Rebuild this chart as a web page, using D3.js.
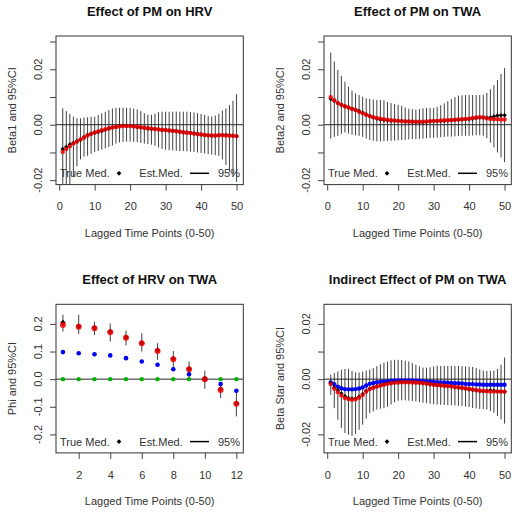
<!DOCTYPE html>
<html>
<head>
<meta charset="utf-8">
<script src="https://cdn.jsdelivr.net/npm/d3@7/dist/d3.min.js"></script>
<style>
  body { margin: 0; background: #fff; }
  svg text { font-family: "Liberation Sans", Arial, Helvetica, sans-serif; fill: #333; }
</style>
</head>
<body>
<svg id="chart" width="519" height="531"></svg>
<script>
'use strict';

// Lags
var lags50 = d3.range(1, 51);
var lags12 = d3.range(1, 13);

// Effect of PM on HRV (Beta1)
var hrvTrue = [-0.0098,-0.0088,-0.0078,-0.0068,-0.0061,-0.0053,-0.0046,-0.0039,-0.0033,-0.0028,
  -0.0024,-0.0020,-0.0016,-0.0013,-0.0010,-0.0008,-0.0006,-0.0005,-0.0005,-0.0005,
  -0.0006,-0.0007,-0.0009,-0.0011,-0.0013,-0.0014,-0.0015,-0.0017,-0.0018,-0.0019,
  -0.0021,-0.0022,-0.0024,-0.0025,-0.0027,-0.0029,-0.0030,-0.0032,-0.0034,-0.0035,
  -0.0037,-0.0038,-0.0039,-0.0039,-0.0038,-0.0038,-0.0039,-0.0040,-0.0040,-0.0041];
var hrvEst = [-0.0088,-0.0080,-0.0071,-0.0066,-0.0060,-0.0054,-0.0045,-0.0037,-0.0033,-0.0029,
  -0.0026,-0.0023,-0.0018,-0.0014,-0.0010,-0.0007,-0.0005,-0.0004,-0.0004,-0.0005,
  -0.0006,-0.0008,-0.0010,-0.0012,-0.0014,-0.0015,-0.0016,-0.0017,-0.0019,-0.0020,
  -0.0021,-0.0022,-0.0023,-0.0025,-0.0027,-0.0028,-0.0030,-0.0031,-0.0033,-0.0035,
  -0.0037,-0.0039,-0.0040,-0.0040,-0.0038,-0.0037,-0.0037,-0.0038,-0.0040,-0.0042];
var hrvUpper = [0.0059,0.0049,0.0039,0.0029,0.0023,0.0023,0.0026,0.0027,0.0029,0.0029,
  0.0035,0.0041,0.0047,0.0053,0.0058,0.0061,0.0061,0.0061,0.0061,0.0060,
  0.0058,0.0055,0.0049,0.0041,0.0036,0.0036,0.0040,0.0045,0.0047,0.0047,
  0.0047,0.0047,0.0047,0.0047,0.0047,0.0047,0.0046,0.0044,0.0042,0.0039,
  0.0036,0.0031,0.0029,0.0033,0.0040,0.0051,0.0059,0.0071,0.0086,0.0110];
var hrvLower = [-0.0260,-0.0240,-0.0222,-0.0188,-0.0150,-0.0125,-0.0115,-0.0112,-0.0105,-0.0098,
  -0.0095,-0.0090,-0.0085,-0.0080,-0.0075,-0.0068,-0.0064,-0.0062,-0.0061,-0.0061,
  -0.0062,-0.0063,-0.0066,-0.0068,-0.0070,-0.0072,-0.0076,-0.0082,-0.0087,-0.0090,
  -0.0092,-0.0093,-0.0094,-0.0095,-0.0095,-0.0096,-0.0097,-0.0098,-0.0100,-0.0102,
  -0.0104,-0.0106,-0.0108,-0.0110,-0.0113,-0.0125,-0.0145,-0.0170,-0.0188,-0.0206];

// Effect of PM on TWA (Beta2)
var twaTrue = [0.0099,0.0088,0.0078,0.0072,0.0067,0.0062,0.0057,0.0053,0.0047,0.0041,
  0.0036,0.0031,0.0027,0.0024,0.0022,0.0020,0.0018,0.0016,0.0015,0.0014,
  0.0013,0.0012,0.0012,0.0011,0.0011,0.0011,0.0011,0.0012,0.0013,0.0014,
  0.0014,0.0015,0.0016,0.0016,0.0017,0.0018,0.0019,0.0020,0.0021,0.0022,
  0.0024,0.0026,0.0027,0.0026,0.0023,0.0021,0.0020,0.0020,0.0019,0.0019];
var twaEst = [0.0093,0.0086,0.0078,0.0071,0.0066,0.0062,0.0058,0.0054,0.0049,0.0043,
  0.0037,0.0031,0.0026,0.0022,0.0019,0.0017,0.0015,0.0014,0.0014,0.0013,
  0.0013,0.0012,0.0012,0.0011,0.0010,0.0010,0.0010,0.0011,0.0012,0.0013,
  0.0013,0.0013,0.0014,0.0015,0.0016,0.0017,0.0018,0.0019,0.0020,0.0021,
  0.0022,0.0024,0.0026,0.0026,0.0025,0.0026,0.0030,0.0033,0.0034,0.0034];
var twaUpper = [0.0260,0.0228,0.0198,0.0176,0.0155,0.0137,0.0123,0.0113,0.0107,0.0101,
  0.0095,0.0093,0.0090,0.0089,0.0089,0.0088,0.0082,0.0078,0.0075,0.0072,
  0.0068,0.0062,0.0058,0.0056,0.0055,0.0057,0.0059,0.0060,0.0061,0.0061,
  0.0064,0.0070,0.0077,0.0085,0.0093,0.0100,0.0105,0.0106,0.0107,0.0107,
  0.0107,0.0107,0.0107,0.0108,0.0115,0.0128,0.0143,0.0161,0.0183,0.0204];
var twaLower = [-0.0050,-0.0044,-0.0040,-0.0033,-0.0028,-0.0032,-0.0036,-0.0038,-0.0040,-0.0044,
  -0.0050,-0.0055,-0.0058,-0.0060,-0.0060,-0.0059,-0.0058,-0.0058,-0.0057,-0.0056,
  -0.0055,-0.0054,-0.0053,-0.0052,-0.0052,-0.0051,-0.0050,-0.0049,-0.0048,-0.0047,
  -0.0046,-0.0045,-0.0044,-0.0043,-0.0043,-0.0042,-0.0041,-0.0040,-0.0040,-0.0040,
  -0.0039,-0.0038,-0.0038,-0.0040,-0.0048,-0.0065,-0.0082,-0.0100,-0.0118,-0.0135];

// Effect of HRV on TWA (Phi)
var phiTrue = [0.196,0.190,0.184,0.170,0.150,0.130,0.102,0.072,0.036,0.000,-0.039,-0.089];
var phiEst = [0.205,0.192,0.186,0.173,0.152,0.131,0.105,0.074,0.038,0.003,-0.036,-0.087];
var phiLower = [0.172,0.163,0.160,0.136,0.122,0.100,0.070,0.040,0.004,-0.035,-0.069,-0.135];
var phiUpper = [0.233,0.233,0.208,0.202,0.176,0.166,0.130,0.102,0.064,0.031,-0.014,-0.045];
var phiBlue = [0.098,0.094,0.090,0.086,0.076,0.064,0.052,0.036,0.018,0.000,-0.018,-0.042];
var phiGreen = [0,0,0,0,0,0,0,0,0,0,0,0];

// Indirect effect of PM on TWA (Beta Star)
var indTrue = [-0.0018,-0.0035,-0.0047,-0.0059,-0.0068,-0.0072,-0.0075,-0.0073,-0.0067,-0.0057,
  -0.0045,-0.0036,-0.0031,-0.0027,-0.0023,-0.0020,-0.0017,-0.0015,-0.0013,-0.0012,
  -0.0011,-0.0011,-0.0011,-0.0012,-0.0012,-0.0013,-0.0014,-0.0016,-0.0018,-0.0020,
  -0.0021,-0.0022,-0.0024,-0.0025,-0.0026,-0.0028,-0.0029,-0.0031,-0.0033,-0.0035,
  -0.0037,-0.0039,-0.0041,-0.0043,-0.0044,-0.0045,-0.0045,-0.0045,-0.0045,-0.0045];
var indEst = [-0.0015,-0.0030,-0.0040,-0.0052,-0.0062,-0.0068,-0.0071,-0.0070,-0.0064,-0.0054,
  -0.0043,-0.0035,-0.0030,-0.0026,-0.0022,-0.0019,-0.0016,-0.0014,-0.0012,-0.0011,
  -0.0010,-0.0010,-0.0010,-0.0011,-0.0012,-0.0013,-0.0015,-0.0017,-0.0019,-0.0020,
  -0.0022,-0.0023,-0.0024,-0.0026,-0.0027,-0.0029,-0.0031,-0.0033,-0.0035,-0.0037,
  -0.0039,-0.0041,-0.0043,-0.0044,-0.0042,-0.0040,-0.0042,-0.0044,-0.0045,-0.0046];
var indBlue = [-0.0012,-0.0018,-0.0027,-0.0033,-0.0036,-0.0037,-0.0037,-0.0036,-0.0034,-0.0030,
  -0.0023,-0.0017,-0.0014,-0.0011,-0.0010,-0.0008,-0.0007,-0.0006,-0.0005,-0.0005,
  -0.0005,-0.0005,-0.0005,-0.0005,-0.0006,-0.0006,-0.0007,-0.0008,-0.0009,-0.0010,
  -0.0011,-0.0012,-0.0012,-0.0013,-0.0014,-0.0015,-0.0015,-0.0016,-0.0017,-0.0018,
  -0.0018,-0.0019,-0.0019,-0.0020,-0.0020,-0.0020,-0.0020,-0.0020,-0.0020,-0.0020];
var indUpper = [0.0016,0.0022,0.0028,0.0034,0.0037,0.0037,0.0030,0.0025,0.0024,0.0027,
  0.0031,0.0035,0.0040,0.0047,0.0054,0.0060,0.0064,0.0068,0.0070,0.0070,
  0.0069,0.0067,0.0064,0.0058,0.0052,0.0046,0.0042,0.0042,0.0043,0.0046,
  0.0048,0.0048,0.0048,0.0048,0.0048,0.0048,0.0048,0.0047,0.0046,0.0045,
  0.0044,0.0040,0.0035,0.0031,0.0030,0.0030,0.0031,0.0037,0.0052,0.0078];
var indLower = [-0.0057,-0.0105,-0.0147,-0.0177,-0.0195,-0.0201,-0.0205,-0.0198,-0.0183,-0.0165,
  -0.0143,-0.0123,-0.0117,-0.0110,-0.0107,-0.0105,-0.0100,-0.0092,-0.0084,-0.0078,
  -0.0077,-0.0077,-0.0078,-0.0079,-0.0081,-0.0083,-0.0085,-0.0087,-0.0089,-0.0091,
  -0.0092,-0.0093,-0.0093,-0.0094,-0.0094,-0.0095,-0.0096,-0.0097,-0.0099,-0.0101,
  -0.0104,-0.0106,-0.0108,-0.0109,-0.0110,-0.0115,-0.0122,-0.0133,-0.0146,-0.0161];

// Ticks
var xTicks50 = [0, 10, 20, 30, 40, 50];
var xTicks12 = [2, 4, 6, 8, 10, 12];
var yTicksSmall = [-0.02, -0.01, 0, 0.01, 0.02, 0.03];
var yLabelsSmall = ['-0.02', '', '0.00', '', '0.02', ''];
var yTicksPhi = [-0.2, -0.1, 0, 0.1, 0.2];
var yLabelsPhi = ['-0.2', '-0.1', '0.0', '0.1', '0.2'];
var legendLabels = ['True Med.', 'Est.Med.', '95%'];

var svg = d3.select('#chart');
var boxW = 187.3;
var boxH = 148.6;

var colors = {
  bar: '#404040',
  est: '#000',
  truth: '#ee0000',
  blue: '#0000f0',
  green: '#00b000'
};

function drawPanel(opt) {
  var g = svg.append('g')
    .attr('transform', 'translate(' + opt.left + ',' + opt.top + ')');

  var x = d3.scaleLinear().domain(opt.xDomain).range([0, boxW]);
  var y = d3.scaleLinear().domain(opt.yDomain).range([boxH, 0]);

  //Clip al area de la grafica
  g.append('clipPath').attr('id', 'clip-' + opt.id)
    .append('rect').attr('width', boxW).attr('height', boxH);

  var plot = g.append('g').attr('clip-path', 'url(#clip-' + opt.id + ')');

  // 95% intervals
  plot.selectAll('line.ci')
    .data(opt.lags)
    .enter().append('line')
    .attr('class', 'ci')
    .attr('x1', function(d) { return x(d); })
    .attr('x2', function(d) { return x(d); })
    .attr('y1', function(d, i) { return y(opt.lower[i]); })
    .attr('y2', function(d, i) { return y(opt.upper[i]); })
    .attr('stroke', colors.bar)
    .attr('stroke-width', 1);

  // zero line
  plot.append('line')
    .attr('x1', 0).attr('x2', boxW)
    .attr('y1', y(0)).attr('y2', y(0))
    .attr('stroke', '#222').attr('stroke-width', 1);

  // extra series (blue / green)
  (opt.extra || []).forEach(function(s) {
    plot.selectAll(null)
      .data(opt.lags)
      .enter().append('circle')
      .attr('cx', function(d) { return x(d); })
      .attr('cy', function(d, i) { return y(s.values[i]); })
      .attr('r', s.r)
      .attr('fill', s.color);
  });

  var diamond = d3.symbol().type(d3.symbolDiamond2).size(opt.diamondSize);

  // estimated (black diamonds)
  plot.selectAll('path.est')
    .data(opt.lags)
    .enter().append('path')
    .attr('class', 'est')
    .attr('d', diamond)
    .attr('transform', function(d, i) {
      return 'translate(' + x(d) + ',' + y(opt.est[i]) + ')';
    })
    .attr('fill', colors.est);

  // true (red dots), semi transparent so the black shows a bit
  plot.selectAll('circle.truth')
    .data(opt.lags)
    .enter().append('circle')
    .attr('class', 'truth')
    .attr('cx', function(d) { return x(d); })
    .attr('cy', function(d, i) { return y(opt.truth[i]); })
    .attr('r', opt.redR)
    .attr('fill', colors.truth)
    .attr('fill-opacity', 0.85);

  // box
  g.append('rect')
    .attr('width', boxW).attr('height', boxH)
    .attr('fill', 'none').attr('stroke', '#333').attr('stroke-width', 1);

  // x axis
  var xAxis = g.append('g')
    .attr('transform', 'translate(0,' + boxH + ')')
    .call(d3.axisBottom(x).tickValues(opt.xTicks).tickSize(6).tickPadding(12)
      .tickFormat(d3.format('d')));
  xAxis.select('.domain').remove();
  xAxis.selectAll('line').attr('stroke', '#444');
  xAxis.selectAll('text').style('font-size', '11px').attr('fill', '#333');

  // y axis
  var yAxis = g.append('g')
    .call(d3.axisLeft(y).tickValues(opt.yTicks).tickSize(6).tickFormat(''));
  yAxis.select('.domain').remove();
  yAxis.selectAll('line').attr('stroke', '#444');

  g.selectAll('text.ylab')
    .data(opt.yTicks)
    .enter().append('text')
    .attr('class', 'ylab')
    .attr('transform', function(d) { return 'translate(-14,' + y(d) + ') rotate(-90)'; })
    .attr('text-anchor', 'middle')
    .style('font-size', '11px')
    .text(function(d, i) { return opt.yLabels[i]; });

  // titles
  g.append('text')
    .attr('x', boxW / 2).attr('y', -20)
    .attr('text-anchor', 'middle')
    .style('font-size', '13px').style('font-weight', 'bold')
    .style('fill', '#111')
    .text(opt.title);

  g.append('text')
    .attr('x', boxW / 2).attr('y', boxH + 52)
    .attr('text-anchor', 'middle')
    .style('font-size', '11px')
    .text('Lagged Time Points (0-50)');

  g.append('text')
    .attr('transform', 'translate(-40,' + (boxH / 2) + ') rotate(-90)')
    .attr('text-anchor', 'middle')
    .style('font-size', '11px')
    .text(opt.yTitle);

  // legend
  var leg = g.append('g').attr('transform', 'translate(0,137.3)');
  leg.append('text').attr('x', 4).attr('y', 4)
    .style('font-size', '11px').text(legendLabels[0]);
  leg.append('path')
    .attr('d', d3.symbol().type(d3.symbolDiamond2).size(14))
    .attr('transform', 'translate(63,0)')
    .attr('fill', '#000');
  leg.append('text').attr('x', 83.3).attr('y', 4)
    .style('font-size', '11px').text(legendLabels[1]);
  leg.append('line')
    .attr('x1', 134).attr('x2', 153).attr('y1', 0).attr('y2', 0)
    .attr('stroke', '#000').attr('stroke-width', 1.5);
  leg.append('text').attr('x', 162).attr('y', 4)
    .style('font-size', '11px').text(legendLabels[2]);
}

drawPanel({
  id: 'hrv', left: 56, top: 36,
  title: 'Effect of PM on HRV', yTitle: 'Beta1  and 95%CI',
  lags: lags50, xDomain: [-0.9, 51.9], yDomain: [-0.0216, 0.032],
  xTicks: xTicks50, yTicks: yTicksSmall, yLabels: yLabelsSmall,
  truth: hrvTrue, est: hrvEst, lower: hrvLower, upper: hrvUpper,
  redR: 2.2, diamondSize: 13
});

drawPanel({
  id: 'twa', left: 324, top: 36,
  title: 'Effect of PM on TWA', yTitle: 'Beta2  and 95%CI',
  lags: lags50, xDomain: [-0.9, 51.9], yDomain: [-0.0216, 0.032],
  xTicks: xTicks50, yTicks: yTicksSmall, yLabels: yLabelsSmall,
  truth: twaTrue, est: twaEst, lower: twaLower, upper: twaUpper,
  redR: 2.2, diamondSize: 13
});

drawPanel({
  id: 'phi', left: 56, top: 304.3,
  title: 'Effect of HRV on TWA', yTitle: 'Phi and 95%CI',
  lags: lags12, xDomain: [0.56, 12.44], yDomain: [-0.267, 0.271],
  xTicks: xTicks12, yTicks: yTicksPhi, yLabels: yLabelsPhi,
  truth: phiTrue, est: phiEst, lower: phiLower, upper: phiUpper,
  extra: [
    { values: phiGreen, color: colors.green, r: 2.2 },
    { values: phiBlue, color: colors.blue, r: 2.3 }
  ],
  redR: 3, diamondSize: 18
});

drawPanel({
  id: 'ind', left: 324, top: 304.3,
  title: 'Indirect Effect of PM on TWA', yTitle: 'Beta Star and 95%CI',
  lags: lags50, xDomain: [-0.9, 51.9], yDomain: [-0.0267, 0.0271],
  xTicks: xTicks50, yTicks: [-0.02, -0.01, 0, 0.01, 0.02], yLabels: ['-0.02', '', '0.00', '', '0.02'],
  truth: indTrue, est: indEst, lower: indLower, upper: indUpper,
  extra: [
    { values: indBlue, color: colors.blue, r: 2.2 }
  ],
  redR: 2.2, diamondSize: 13
});
</script>
</body>
</html>
